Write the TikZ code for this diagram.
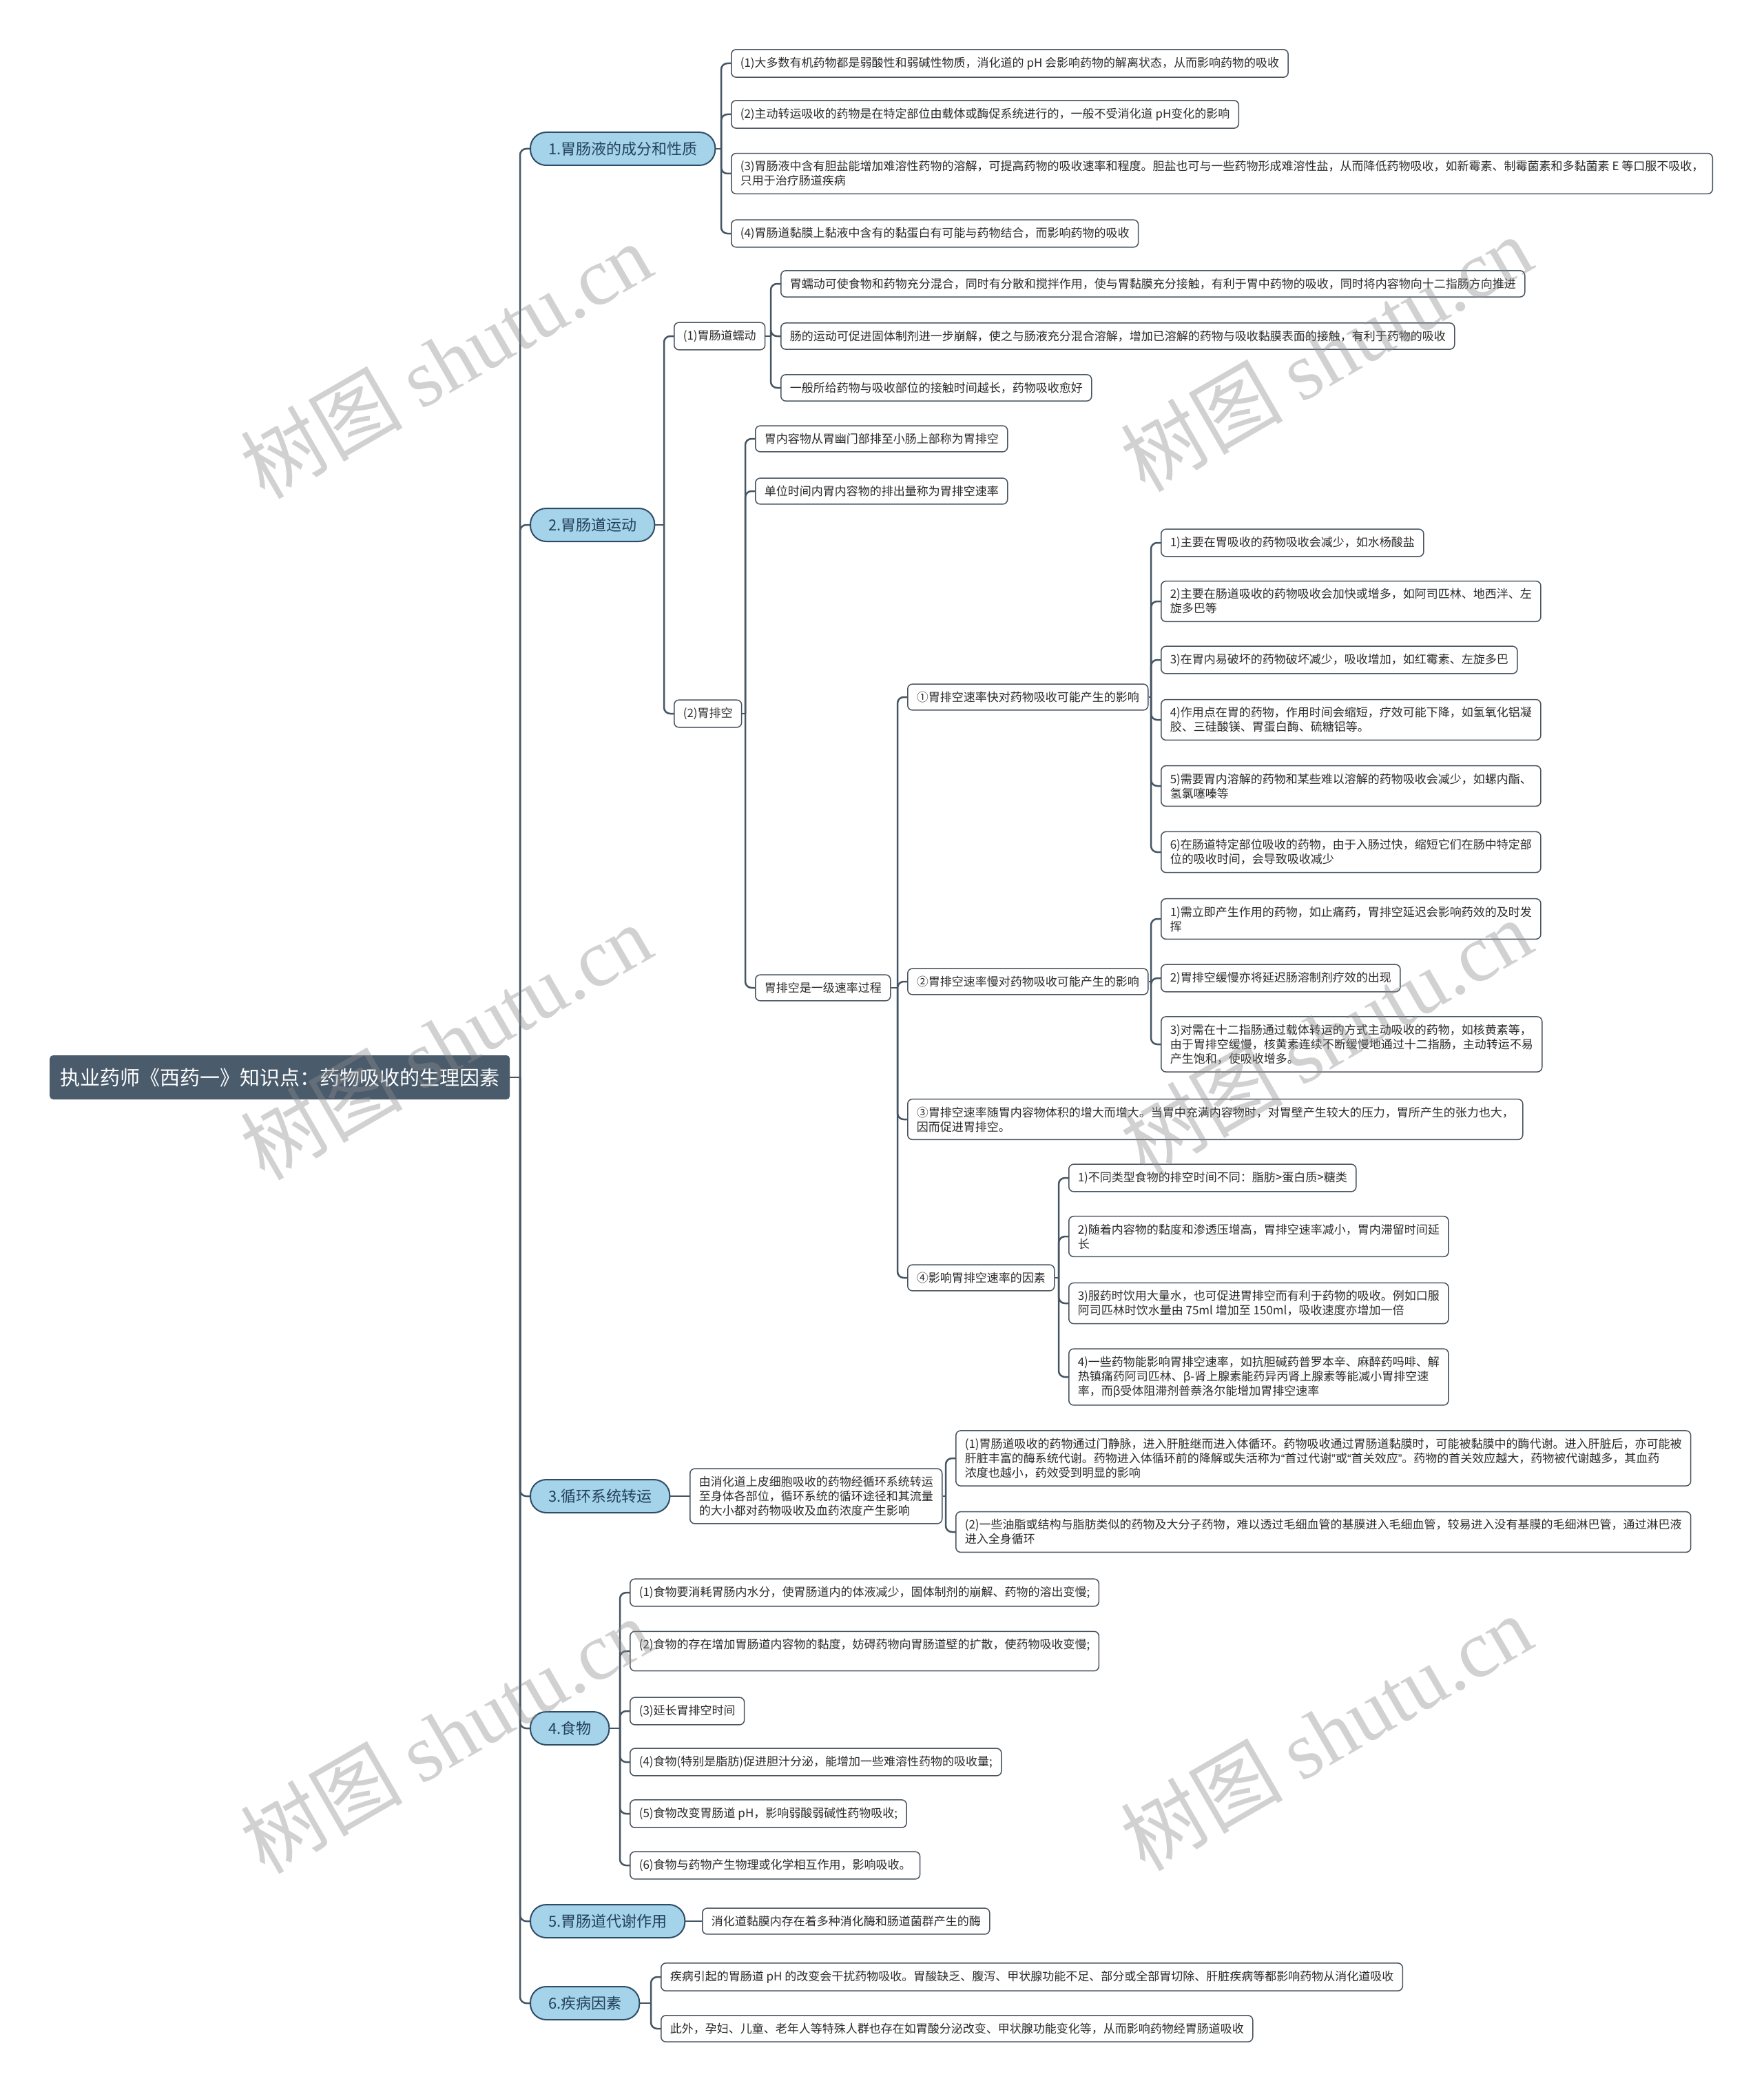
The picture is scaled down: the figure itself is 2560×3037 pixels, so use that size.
\documentclass[tikz,border=0pt]{standalone}
\usepackage{fontspec}
\setmainfont{Noto Sans CJK SC}
\newfontfamily\wmlatin{Liberation Serif}
\newfontfamily\qfont{Liberation Sans}
\usetikzlibrary{calc}
\definecolor{mainc}{HTML}{4A5B6C}
\definecolor{lonefill}{HTML}{A4D3EA}
\definecolor{loneborder}{HTML}{2F4D66}
\definecolor{lonetext}{HTML}{23425A}
\definecolor{linec}{HTML}{465563}
\definecolor{leafborder}{HTML}{4A5560}
\definecolor{txt}{HTML}{2B2B2B}
\tikzset{
  rootbox/.style={fill=mainc, text=white, rounded corners=5pt, inner xsep=15pt, inner ysep=4pt,
    minimum height=64pt, anchor=west, font=\fontsize{29}{35}\selectfont},
  topicbox/.style={fill=lonefill, draw=loneborder, line width=2pt, rounded corners=23pt,
    inner xsep=26pt, inner ysep=4pt, minimum height=48pt, anchor=west, text=lonetext,
    font=\fontsize{22}{26}\selectfont},
  leafbox/.style={draw=leafborder, fill=white, line width=1.5pt, rounded corners=7pt,
    inner xsep=13pt, inner ysep=11pt, align=left, anchor=west, text=txt,
    font=\fontsize{17}{21}\selectfont},
  conn/.style={draw=linec, line width=2.5pt},
  wmark/.style={rotate=30, text=black!45, opacity=0.4, font=\fontsize{118}{118}\selectfont}
}
\newcommand\mmlink[2]{%
  \draw[conn] (#1.east) -- ($(#2.west |- #1.east)+(-14,0)$);
  \draw[conn, rounded corners=9pt] ($(#2.west |- #1.east)+(-14,0)$) |- (#2.west);}
\newcommand\myopenq{{\qfont “}}
\newcommand\myclosq{{\qfont ”}}
\begin{document}
\begin{tikzpicture}[x=1pt, y=-1pt]
\useasboundingbox (0,0) rectangle (2560,3037);
\fill[white] (0,0) rectangle (2560,3037);

% root and topics
\node[rootbox] (root) at (72,1564) {执业药师《西药一》知识点：药物吸收的生理因素};
\node[topicbox] (t1) at (769,216) {1.胃肠液的成分和性质};
\node[topicbox] (t2) at (769,762) {2.胃肠道运动};
\node[topicbox] (t3) at (769,2172) {3.循环系统转运};
\node[topicbox] (t4) at (769,2509) {4.食物};
\node[topicbox] (t5) at (769,2789) {5.胃肠道代谢作用};
\node[topicbox] (t6) at (769,2908) {6.疾病因素};

% topic 1
\node[leafbox] (a1) at (1061,92) {(1)大多数有机药物都是弱酸性和弱碱性物质，消化道的 pH 会影响药物的解离状态，从而影响药物的吸收};
\node[leafbox] (a2) at (1061,166) {(2)主动转运吸收的药物是在特定部位由载体或酶促系统进行的，一般不受消化道 pH变化的影响};
\node[leafbox] (a3) at (1061,252) {(3)胃肠液中含有胆盐能增加难溶性药物的溶解，可提高药物的吸收速率和程度。胆盐也可与一些药物形成难溶性盐，从而降低药物吸收，如新霉素、制霉菌素和多黏菌素 E 等口服不吸收，\\只用于治疗肠道疾病};
\node[leafbox] (a4) at (1061,339) {(4)胃肠道黏膜上黏液中含有的黏蛋白有可能与药物结合，而影响药物的吸收};

% topic 2
\node[leafbox] (m1) at (978,488) {(1)胃肠道蠕动};
\node[leafbox] (m2) at (978,1036) {(2)胃排空};
\node[leafbox] (p1) at (1133,412) {胃蠕动可使食物和药物充分混合，同时有分散和搅拌作用，使与胃黏膜充分接触，有利于胃中药物的吸收，同时将内容物向十二指肠方向推进};
\node[leafbox] (p2) at (1133,488) {肠的运动可促进固体制剂进一步崩解，使之与肠液充分混合溶解，增加已溶解的药物与吸收黏膜表面的接触，有利于药物的吸收};
\node[leafbox] (p3) at (1133,563) {一般所给药物与吸收部位的接触时间越长，药物吸收愈好};
\node[leafbox] (g1) at (1096,637) {胃内容物从胃幽门部排至小肠上部称为胃排空};
\node[leafbox] (g2) at (1096,713) {单位时间内胃内容物的排出量称为胃排空速率};
\node[leafbox] (e0) at (1096,1434) {胃排空是一级速率过程};
\node[leafbox] (e1) at (1317,1012) {①胃排空速率快对药物吸收可能产生的影响};
\node[leafbox] (e2) at (1317,1425) {②胃排空速率慢对药物吸收可能产生的影响};
\node[leafbox] (e3) at (1317,1625) {③胃排空速率随胃内容物体积的增大而增大。当胃中充满内容物时，对胃壁产生较大的压力，胃所产生的张力也大，\\因而促进胃排空。};
\node[leafbox] (e4) at (1317,1855) {④影响胃排空速率的因素};

\node[leafbox] (f1) at (1685,788) {1)主要在胃吸收的药物吸收会减少，如水杨酸盐};
\node[leafbox] (f2) at (1685,873) {2)主要在肠道吸收的药物吸收会加快或增多，如阿司匹林、地西泮、左\\旋多巴等};
\node[leafbox] (f3) at (1685,958) {3)在胃内易破坏的药物破坏减少，吸收增加，如红霉素、左旋多巴};
\node[leafbox] (f4) at (1685,1045) {4)作用点在胃的药物，作用时间会缩短，疗效可能下降，如氢氧化铝凝\\胶、三硅酸镁、胃蛋白酶、硫糖铝等。};
\node[leafbox] (f5) at (1685,1141) {5)需要胃内溶解的药物和某些难以溶解的药物吸收会减少，如螺内酯、\\氢氯噻嗪等};
\node[leafbox] (f6) at (1685,1237) {6)在肠道特定部位吸收的药物，由于入肠过快，缩短它们在肠中特定部\\位的吸收时间，会导致吸收减少};

\node[leafbox] (s1) at (1685,1334) {1)需立即产生作用的药物，如止痛药，胃排空延迟会影响药效的及时发\\挥};
\node[leafbox] (s2) at (1685,1420) {2)胃排空缓慢亦将延迟肠溶制剂疗效的出现};
\node[leafbox] (s3) at (1685,1516) {3)对需在十二指肠通过载体转运的方式主动吸收的药物，如核黄素等，\\由于胃排空缓慢，核黄素连续不断缓慢地通过十二指肠，主动转运不易\\产生饱和，使吸收增多。};

\node[leafbox] (r1) at (1551,1710) {1)不同类型食物的排空时间不同：脂肪>蛋白质>糖类};
\node[leafbox] (r2) at (1551,1795) {2)随着内容物的黏度和渗透压增高，胃排空速率减小，胃内滞留时间延\\长};
\node[leafbox] (r3) at (1551,1892) {3)服药时饮用大量水，也可促进胃排空而有利于药物的吸收。例如口服\\阿司匹林时饮水量由 75ml 增加至 150ml，吸收速度亦增加一倍};
\node[leafbox] (r4) at (1551,1999) {4)一些药物能影响胃排空速率，如抗胆碱药普罗本辛、麻醉药吗啡、解\\热镇痛药阿司匹林、β-肾上腺素能药异丙肾上腺素等能减小胃排空速\\率，而β受体阻滞剂普萘洛尔能增加胃排空速率};

% topic 3
\node[leafbox] (c0) at (1001,2172) {由消化道上皮细胞吸收的药物经循环系统转运\\至身体各部位，循环系统的循环途径和其流量\\的大小都对药物吸收及血药浓度产生影响};
\node[leafbox] (c1) at (1387,2117) {(1)胃肠道吸收的药物通过门静脉，进入肝脏继而进入体循环。药物吸收通过胃肠道黏膜时，可能被黏膜中的酶代谢。进入肝脏后，亦可能被\\肝脏丰富的酶系统代谢。药物进入体循环前的降解或失活称为\myopenq 首过代谢\myclosq 或\myopenq 首关效应\myclosq 。药物的首关效应越大，药物被代谢越多，其血药\\浓度也越小，药效受到明显的影响};
\node[leafbox] (c2) at (1387,2224) {(2)一些油脂或结构与脂肪类似的药物及大分子药物，难以透过毛细血管的基膜进入毛细血管，较易进入没有基膜的毛细淋巴管，通过淋巴液\\进入全身循环};

% topic 4
\node[leafbox] (d1) at (914,2312) {(1)食物要消耗胃肠内水分，使胃肠道内的体液减少，固体制剂的崩解、药物的溶出变慢;};
\node[leafbox] (d2) at (914,2397) {(2)食物的存在增加胃肠道内容物的黏度，妨碍药物向胃肠道壁的扩散，使药物吸收变慢;\\\mbox{}};
\node[leafbox] (d3) at (914,2484) {(3)延长胃排空时间};
\node[leafbox] (d4) at (914,2558) {(4)食物(特别是脂肪)促进胆汁分泌，能增加一些难溶性药物的吸收量;};
\node[leafbox] (d5) at (914,2633) {(5)食物改变胃肠道 pH，影响弱酸弱碱性药物吸收;};
\node[leafbox] (d6) at (914,2708) {(6)食物与药物产生物理或化学相互作用，影响吸收。};

% topic 5
\node[leafbox] (k1) at (1019,2789) {消化道黏膜内存在着多种消化酶和肠道菌群产生的酶};

% topic 6
\node[leafbox] (h1) at (959,2870) {疾病引起的胃肠道 pH 的改变会干扰药物吸收。胃酸缺乏、腹泻、甲状腺功能不足、部分或全部胃切除、肝脏疾病等都影响药物从消化道吸收};
\node[leafbox] (h2) at (959,2945) {此外，孕妇、儿童、老年人等特殊人群也存在如胃酸分泌改变、甲状腺功能变化等，从而影响药物经胃肠道吸收};

% connectors
\foreach \c in {t1,t2,t3,t4,t5,t6} {\mmlink{root}{\c}}
\foreach \c in {a1,a2,a3,a4} {\mmlink{t1}{\c}}
\foreach \c in {m1,m2} {\mmlink{t2}{\c}}
\foreach \c in {p1,p2,p3} {\mmlink{m1}{\c}}
\foreach \c in {g1,g2,e0} {\mmlink{m2}{\c}}
\foreach \c in {e1,e2,e3,e4} {\mmlink{e0}{\c}}
\foreach \c in {f1,f2,f3,f4,f5,f6} {\mmlink{e1}{\c}}
\foreach \c in {s1,s2,s3} {\mmlink{e2}{\c}}
\foreach \c in {r1,r2,r3,r4} {\mmlink{e4}{\c}}
\draw[conn] (t3.east) -- (c0.west);
\foreach \c in {c1,c2} {\mmlink{c0}{\c}}
\foreach \c in {d1,d2,d3,d4,d5,d6} {\mmlink{t4}{\c}}
\draw[conn] (t5.east) -- (k1.west);
\foreach \c in {h1,h2} {\mmlink{t6}{\c}}

% watermarks
\node[wmark] (w1) at (647,523) {树图 {\wmlatin shutu.cn}};
\node[wmark] (w2) at (1925,513) {树图 {\wmlatin shutu.cn}};
\node[wmark] (w3) at (647,1512) {树图 {\wmlatin shutu.cn}};
\node[wmark] (w4) at (1925,1505) {树图 {\wmlatin shutu.cn}};
\node[wmark] (w5) at (647,2519) {树图 {\wmlatin shutu.cn}};
\node[wmark] (w6) at (1925,2515) {树图 {\wmlatin shutu.cn}};
\end{tikzpicture}
\end{document}
